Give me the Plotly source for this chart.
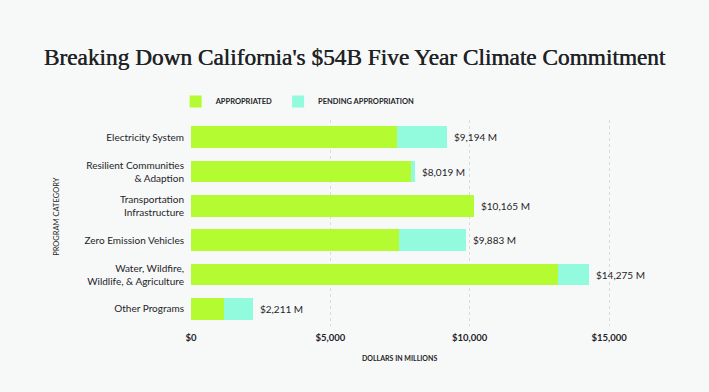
import plotly.graph_objects as go

categories = ["Electricity System", "Resilient Communities<br>& Adaption", "Transportation<br>Infrastructure",
              "Zero Emission Vehicles", "Water, Wildfire,<br>Wildlife, & Agriculture", "Other Programs"]
appropriated = [7394, 7885, 10165, 7480, 13165, 1183]
totals = [9194, 8019, 10165, 9883, 14275, 2211]
pending = [t - a for t, a in zip(totals, appropriated)]
total_labels = ["$9,194 M", "$8,019 M", "$10,165 M", "$9,883 M", "$14,275 M", "$2,211 M"]
x_ticks = [0, 5000, 10000, 15000]
x_tick_labels = ["$0", "$5,000", "$10,000", "$15,000"]

GREEN = "#b4fb32"
CYAN = "#92fadd"
BG = "#f7f9f9"
TXT = "#1f2327"
FONT = "Lato"

fig = go.Figure()
fig.add_trace(go.Bar(y=categories, x=appropriated, orientation="h", name="<b>APPROPRIATED</b>",
                     marker=dict(color=GREEN, line=dict(width=0))))
fig.add_trace(go.Bar(y=categories, x=pending, orientation="h", name="<b>PENDING APPROPRIATION</b>",
                     marker=dict(color=CYAN, line=dict(width=0))))

for c, t, lab in zip(categories, totals, total_labels):
    fig.add_annotation(x=t, y=c, xref="x", yref="y", text=lab, showarrow=False,
                       xanchor="left", xshift=5, font=dict(family=FONT, size=10, color=TXT))

fig.add_annotation(x=-0.32, y=0.53, xref="paper", yref="paper", text="PROGRAM CATEGORY",
                   textangle=-90, showarrow=False, font=dict(family=FONT, size=7.5, color=TXT))
fig.add_annotation(x=0.475, y=-0.155, xref="paper", yref="paper", text="<b>DOLLARS IN MILLIONS</b>",
                   showarrow=False, yanchor="middle", font=dict(family=FONT, size=7, color=TXT))

fig.update_layout(
    width=709, height=392,
    barmode="stack", bargap=0.36,
    paper_bgcolor=BG, plot_bgcolor=BG,
    margin=dict(l=191, r=79, t=120, b=66),
    title=dict(text="Breaking Down California's $54B Five Year Climate Commitment",
               x=0.5, xanchor="center", y=1 - 57 / 392, yref="container", yanchor="middle",
               font=dict(family="Liberation Serif", size=23.3, color="#1f2326",
                         shadow="0.5px 0 0 #1f2326")),
    showlegend=True,
    legend=dict(orientation="h", x=-0.035, xanchor="left", y=1.09, yanchor="middle",
                font=dict(family=FONT, size=7.5, color=TXT), itemwidth=30, traceorder="normal",
                bgcolor="rgba(0,0,0,0)"),
    font=dict(family=FONT, color=TXT),
)
fig.update_xaxes(range=[0, 15750], tickvals=x_ticks, ticktext=["<b>%s</b>" % s for s in x_tick_labels],
                 showgrid=True, gridcolor="#d8dbdd", griddash="dot", gridwidth=1,
                 zeroline=False, showline=False, ticks="", ticklabelstandoff=4,
                 tickfont=dict(family=FONT, size=9.5, color=TXT))
fig.update_yaxes(autorange="reversed", showgrid=False, zeroline=False, ticks="",
                 ticklabelstandoff=6, tickfont=dict(family=FONT, size=10, color=TXT))

fig.write_html("out.html", config={"displayModeBar": False},
               post_script="document.body.style.margin='0';document.body.style.background='%s';" % BG)
